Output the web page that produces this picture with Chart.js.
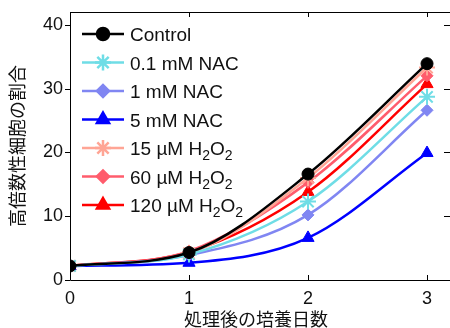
<!DOCTYPE html>
<html>
<head>
<meta charset="utf-8">
<script src="https://cdn.jsdelivr.net/npm/chart.js@4"></script>
<style>
  html, body { margin: 0; padding: 0; background: #fff; }
  #wrap { width: 450px; height: 328px; }
</style>
</head>
<body>
<div id="wrap"><canvas id="c" width="450" height="328"></canvas></div>
<script>
// 処理後の培養日数
const days = [0, 1, 2, 3];
const xTicks = [0, 1, 2, 3];
const yTicks = [0, 10, 20, 30, 40];

// 高倍数性細胞の割合 (%)
const control = [2.2, 4.3, 16.6, 33.9];
const nac01 = [2.2, 4.0, 12.3, 28.7];
const nac1 = [2.2, 3.9, 10.2, 26.6];
const nac5 = [2.2, 2.7, 6.6, 19.9];
const h2o2_15 = [2.2, 4.2, 16.0, 33.3];
const h2o2_60 = [2.2, 4.5, 15.3, 32.0];
const h2o2_120 = [2.2, 4.4, 13.8, 30.7];

const labels = ["Control", "0.1 mM NAC", "1 mM NAC", "5 mM NAC", "15 µM H2O2", "60 µM H2O2", "120 µM H2O2"];
const FONT = "'Liberation Sans', Arial, sans-serif";
const JFONT = "'Noto Sans CJK JP', sans-serif";

function series(label, values, color, style, radius) {
    return {
        label: label,
        data: days.map((d, i) => ({ x: d, y: values[i] })),
        borderColor: color,
        backgroundColor: color,
        borderWidth: 2.5,
        pointStyle: style,
        pointRadius: radius,
        pointBorderWidth: style === "star" ? 2 : 1,
        cubicInterpolationMode: "monotone",
        fill: false
    };
}

// 凡例・枠線・軸タイトル
const decor = {
    id: "decor",
    afterDraw(chart) {
        const ctx = chart.ctx;
        const a = chart.chartArea;
        const xs = chart.scales.x, ys = chart.scales.y;
        ctx.save();
        ctx.strokeStyle = "#000";
        ctx.lineWidth = 1;
        ctx.beginPath();
        ctx.moveTo(a.left + 0.5, a.top + 0.5);
        ctx.lineTo(450, a.top + 0.5);
        ctx.moveTo(a.left + 0.5, a.top);
        ctx.lineTo(a.left + 0.5, a.bottom + 0.5);
        ctx.lineTo(450, a.bottom + 0.5);
        xTicks.forEach(t => {
            const px = Math.round(xs.getPixelForValue(t)) + 0.5;
            ctx.moveTo(px, a.bottom);
            ctx.lineTo(px, a.bottom - 5);
            ctx.moveTo(px, a.top);
            ctx.lineTo(px, a.top + 5);
        });
        yTicks.forEach(t => {
            const py = Math.round(ys.getPixelForValue(t)) + 0.5;
            ctx.moveTo(a.left - 5, py);
            ctx.lineTo(a.left, py);
            ctx.moveTo(450, py);
            ctx.lineTo(444, py);
        });
        ctx.stroke();

        // axis titles
        ctx.fillStyle = "#111";
        ctx.font = "18px " + JFONT;
        ctx.textAlign = "center";
        ctx.textBaseline = "middle";
        ctx.fillText("処理後の培養日数", 256, 319);
        ctx.save();
        ctx.translate(17, (a.top + a.bottom) / 2);
        ctx.rotate(-Math.PI / 2);
        ctx.fillText("高倍数性細胞の割合", 0, 0);
        ctx.restore();

        // legend
        const x0 = 82, x1 = 124, tx = 130;
        ctx.textAlign = "left";
        ctx.textBaseline = "alphabetic";
        chart.data.datasets.forEach((ds, i) => {
            const y = 34 + i * 28.5;
            ctx.strokeStyle = ds.borderColor;
            ctx.lineWidth = 2.5;
            ctx.beginPath();
            ctx.moveTo(x0, y);
            ctx.lineTo(x1, y);
            ctx.stroke();
            ctx.fillStyle = ds.backgroundColor;
            Chart.helpers.drawPoint(ctx, {
                pointStyle: ds.pointStyle,
                radius: ds.pointRadius,
                borderWidth: ds.pointBorderWidth,
                rotation: 0
            }, (x0 + x1) / 2, y);
            ctx.fillStyle = "#111";
            const base = y + 7;
            const txt = ds.label;
            if (txt.endsWith("H2O2")) {
                let x = tx;
                const parts = [[txt.slice(0, -4) + "H", false], ["2", true], ["O", false], ["2", true]];
                parts.forEach(([s, sub]) => {
                    ctx.font = (sub ? "14px " : "19px ") + FONT;
                    ctx.fillText(s, x, sub ? base + 5 : base);
                    x += ctx.measureText(s).width;
                });
            } else {
                ctx.font = "19px " + FONT;
                ctx.fillText(txt, tx, base);
            }
        });
        ctx.restore();
    }
};

new Chart(document.getElementById("c"), {
    type: "line",
    data: {
        datasets: [
            series(labels[0], control, "#000000", "circle", 6),
            series(labels[1], nac01, "#6fdde6", "star", 8),
            series(labels[2], nac1, "#8086f2", "rectRot", 6),
            series(labels[3], nac5, "#0000ff", "triangle", 7),
            series(labels[4], h2o2_15, "#ffa595", "star", 8),
            series(labels[5], h2o2_60, "#ff5c6c", "rectRot", 6),
            series(labels[6], h2o2_120, "#ff0000", "triangle", 7)
        ]
    },
    options: {
        responsive: false,
        animation: false,
        layout: { padding: { top: 12, right: 0, left: 0, bottom: 0 } },
        plugins: {
            legend: { display: false },
            tooltip: { enabled: false }
        },
        scales: {
            x: {
                type: "linear",
                min: 0,
                max: 3.109,
                afterBuildTicks: s => { s.ticks = xTicks.map(v => ({ value: v })); },
                afterFit: s => { s.height = 48; s.paddingRight = 0; s.paddingLeft = 0; },
                grid: { display: false, drawTicks: false },
                border: { display: false },
                ticks: { color: "#111", font: { family: FONT, size: 18 }, padding: 8 }
            },
            y: {
                min: 0,
                max: 42,
                afterBuildTicks: s => { s.ticks = yTicks.map(v => ({ value: v })); },
                afterFit: s => { s.width = 70; s.paddingTop = 0; s.paddingBottom = 0; },
                grid: { display: false, drawTicks: false },
                border: { display: false },
                ticks: { color: "#111", font: { family: FONT, size: 18 }, padding: 7 }
            }
        }
    },
    plugins: [decor]
});
</script>
</body>
</html>
